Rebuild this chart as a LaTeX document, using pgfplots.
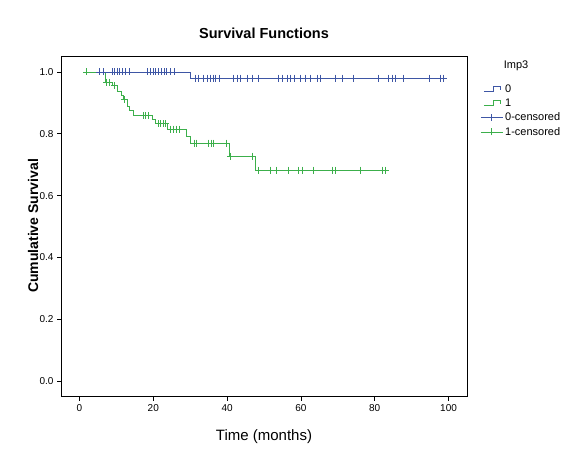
\documentclass[border=0pt]{standalone}
\usepackage{pgfplots}
\pgfplotsset{compat=1.18}
\usepackage{fontspec}
\setmainfont{Liberation Sans}
\definecolor{sblue}{RGB}{62,86,165}
\definecolor{sgreen}{RGB}{60,175,75}
\begin{document}
\begin{tikzpicture}[x=1pt,y=1pt]
\path[use as bounding box] (0,0) rectangle (572,452);
\begin{axis}[at={(61pt,55.5pt)}, anchor=south west, scale only axis,
  width=406pt, height=340pt,
  xmin=-5, xmax=105, ymin=-0.05, ymax=1.05,
  xtick={0,20,40,60,80,100}, ytick={0,0.2,0.4,0.6,0.8,1.0},
  yticklabel style={/pgf/number format/.cd,fixed,fixed zerofill,precision=1},
  /pgf/number format/assume math mode=true,
  tick label style={font=\fontsize{10}{12}\selectfont},
  tick align=outside, major tick length=4pt, xtick pos=bottom, ytick pos=left,
  axis line style={line width=0.6pt}, every tick/.style={black,line width=0.6pt},
  legend style={at={(1.025,0.93)}, anchor=north west, draw=none, fill=none,
    font=\fontsize{11}{13}\selectfont, row sep=1pt},
  legend cell align=left,
]
\addplot[sblue, line width=0.8pt, const plot,
  legend image code/.code={\draw[sblue,line width=0.8pt] (0pt,-2.5pt) -- (10pt,-2.5pt) -- (10pt,2.5pt) -- (17pt,2.5pt) -- (17pt,-0.5pt);}]
  coordinates {(5.5,1.0) (30,0.98) (99,0.98)};
\addlegendentry{0}
\addplot[sgreen, line width=0.8pt, const plot,
  legend image code/.code={\draw[sgreen,line width=0.8pt] (0pt,-2.5pt) -- (10pt,-2.5pt) -- (10pt,2.5pt) -- (17pt,2.5pt) -- (17pt,-0.5pt);}]
  coordinates {(2,1.0) (7,0.967) (9,0.955) (10.3,0.936) (11.3,0.925) (12,0.91) (12.9,0.89) (13.5,0.876) (14.7,0.858) (19.7,0.845) (20.6,0.832) (23.9,0.815) (29,0.79) (30.1,0.77) (40.7,0.728) (47.8,0.682) (83.4,0.682)};
\addlegendentry{1}
\addplot[sblue, only marks, mark=+, mark size=3.5pt, mark options={line width=0.8pt},
  legend image code/.code={\draw[sblue,line width=0.8pt] (-3pt,0pt) -- (19pt,0pt) (8pt,-3.5pt) -- (8pt,3.5pt);}]
  coordinates {(5.5,1.0) (6.6,1.0) (8.9,1.0) (9.5,1.0) (10.2,1.0) (10.9,1.0) (11.6,1.0) (12.5,1.0) (13.4,1.0)
  (18.5,1.0) (19.2,1.0) (20,1.0) (20.7,1.0) (21.4,1.0) (22.1,1.0) (22.9,1.0) (23.6,1.0) (24.7,1.0) (25.6,1.0)
  (31.4,0.98) (32.3,0.98) (33.7,0.98) (34.6,0.98) (35.5,0.98) (36.2,0.98) (36.9,0.98) (37.8,0.98)
  (41.8,0.98) (42.7,0.98) (43.6,0.98) (45.4,0.98) (46.8,0.98) (48.6,0.98)
  (54,0.98) (54.9,0.98) (56.3,0.98) (57.2,0.98) (58.1,0.98) (59.9,0.98) (61.2,0.98) (62.6,0.98) (64.4,0.98) (65.3,0.98)
  (69.4,0.98) (71.2,0.98) (74.3,0.98) (81.1,0.98) (83.8,0.98) (84.7,0.98) (85.6,0.98) (87.9,0.98)
  (94.7,0.98) (97.8,0.98) (98.7,0.98)};
\addlegendentry{0-censored}
\addplot[sgreen, only marks, mark=+, mark size=3.5pt, mark options={line width=0.8pt},
  legend image code/.code={\draw[sgreen,line width=0.8pt] (-3pt,0pt) -- (19pt,0pt) (8pt,-3.5pt) -- (8pt,3.5pt);}]
  coordinates {(2,1.0) (7.4,0.967) (8.2,0.967) (9.6,0.955) (12.2,0.91)
  (17.3,0.858) (17.9,0.858) (18.8,0.858)
  (21.5,0.832) (21.9,0.832) (22.7,0.832) (23.3,0.832)
  (24.7,0.815) (25.4,0.815) (26.3,0.815) (27.2,0.815)
  (31.2,0.77) (31.6,0.77) (35,0.77) (35.7,0.77) (36.4,0.77) (39.8,0.77)
  (40.9,0.728) (46.8,0.728)
  (48.6,0.682) (51.6,0.682) (53.4,0.682) (56.7,0.682) (59.4,0.682) (60.3,0.682) (63.3,0.682)
  (68.5,0.682) (69.4,0.682) (76.2,0.682) (82,0.682) (82.9,0.682)};
\addlegendentry{1-censored}
\end{axis}
\node[font=\bfseries\fontsize{14.5}{16}\selectfont] at (264,419) {Survival Functions};
\node[font=\bfseries\fontsize{14}{16}\selectfont, rotate=90] at (33,226) {Cumulative Survival};
\node[font=\fontsize{15}{17}\selectfont] at (264,15) {Time (months)};
\node[font=\fontsize{11}{13}\selectfont] at (516,386) {Imp3};
\end{tikzpicture}
\end{document}
